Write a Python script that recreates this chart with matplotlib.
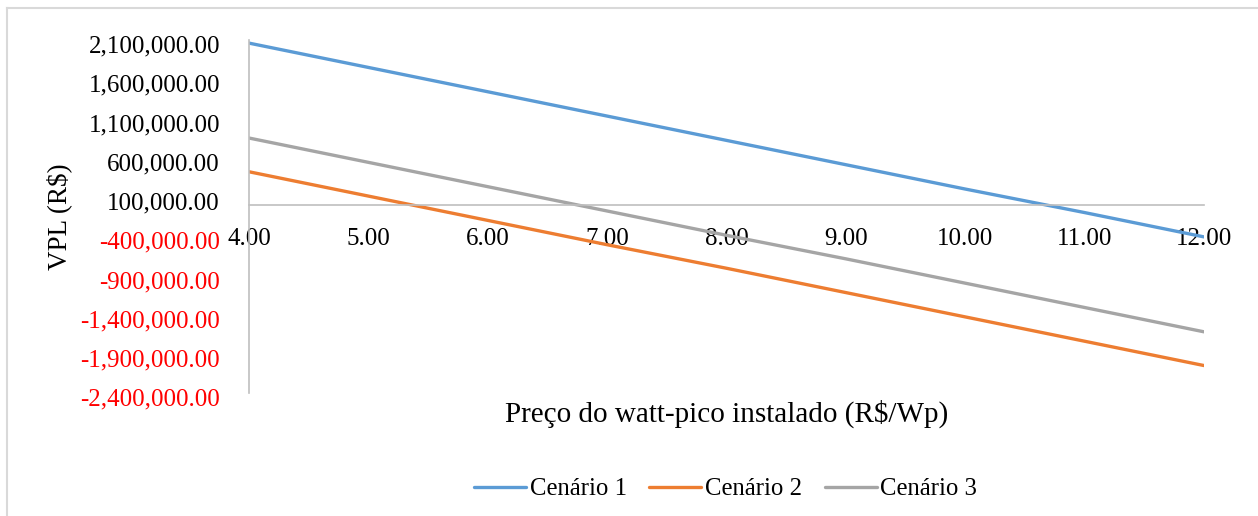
import matplotlib.pyplot as plt
from matplotlib.lines import Line2D
from matplotlib.ticker import FuncFormatter
from matplotlib.transforms import ScaledTranslation

# Preço do watt-pico instalado (R$/Wp)
preco = [4, 5, 6, 7, 8, 9, 10, 11, 12]

# VPL (R$) por cenário
cenario_1 = [2060000, 1750000, 1440000, 1130000, 820000, 510000, 200000, -100000, -410000]
cenario_2 = [420000, 110000, -200000, -510000, -810000, -1120000, -1430000, -1740000, -2050000]
cenario_3 = [850000, 540000, 230000, -80000, -390000, -690000, -1000000, -1310000, -1620000]

y_ticks = [2100000, 1600000, 1100000, 600000, 100000,
           -400000, -900000, -1400000, -1900000, -2400000]
x_ticks = [4, 5, 6, 7, 8, 9, 10, 11, 12]

plt.rcParams['font.family'] = ['Liberation Serif', 'DejaVu Serif']

fig = plt.figure(figsize=(12.58, 5.16), dpi=100)
ax = fig.add_axes([0.198, 0.2384, 0.759, 0.6841])

ax.plot(preco, cenario_1, color='#5B9BD5', lw=2.4, label='Cenário 1', solid_capstyle='round')
ax.plot(preco, cenario_2, color='#ED7D31', lw=2.4, label='Cenário 2', solid_capstyle='round')
ax.plot(preco, cenario_3, color='#A5A5A5', lw=2.4, label='Cenário 3', solid_capstyle='round')

ax.set_xlim(4, 12)
ax.set_ylim(-2400000, 2100000)

# x axis crosses at zero, like the spreadsheet default
for side in ['top', 'right']:
    ax.spines[side].set_visible(False)
ax.spines['bottom'].set_position(('data', 0))
ax.spines['bottom'].set_color('#BFBFBF')
ax.spines['left'].set_color('#BFBFBF')
ax.spines['bottom'].set_linewidth(1.2)
ax.spines['left'].set_linewidth(1.2)

ax.set_xticks(x_ticks)
ax.xaxis.set_major_formatter(FuncFormatter(lambda v, p: f'{v:.2f}'))
ax.set_yticks(y_ticks)
ax.yaxis.set_major_formatter(FuncFormatter(lambda v, p: f'{v:,.2f}'))
ax.tick_params(axis='both', length=0, labelsize=18, colors='black')
ax.tick_params(axis='x', pad=17)
ax.tick_params(axis='y', pad=21)

# negative values in red, labels nudged down a little
shift = ScaledTranslation(0, -3 / 72, fig.dpi_scale_trans)
for lbl, v in zip(ax.get_yticklabels(), y_ticks):
    lbl.set_transform(lbl.get_transform() + shift)
    if v < 0:
        lbl.set_color('#FF0000')

fig.text(0.047, 0.58, 'VPL (R$)', rotation=90, ha='center', va='center', fontsize=19.5)
fig.text(0.578, 0.198, 'Preço do watt-pico instalado (R$/Wp)', ha='center', va='center', fontsize=21)

fig.legend(loc='center', bbox_to_anchor=(0.577, 0.052), ncol=3, frameon=False,
           fontsize=17.8, handlelength=2.1, handletextpad=0.16, columnspacing=0.9)

# outer chart border
fig.add_artist(Line2D([7 / 1258, 1], [1 - 8 / 516, 1 - 8 / 516], color='#D9D9D9', lw=1.5))
fig.add_artist(Line2D([7 / 1258, 7 / 1258], [0, 1 - 8 / 516], color='#D9D9D9', lw=1.5))

fig.savefig('out.png', dpi=100)
